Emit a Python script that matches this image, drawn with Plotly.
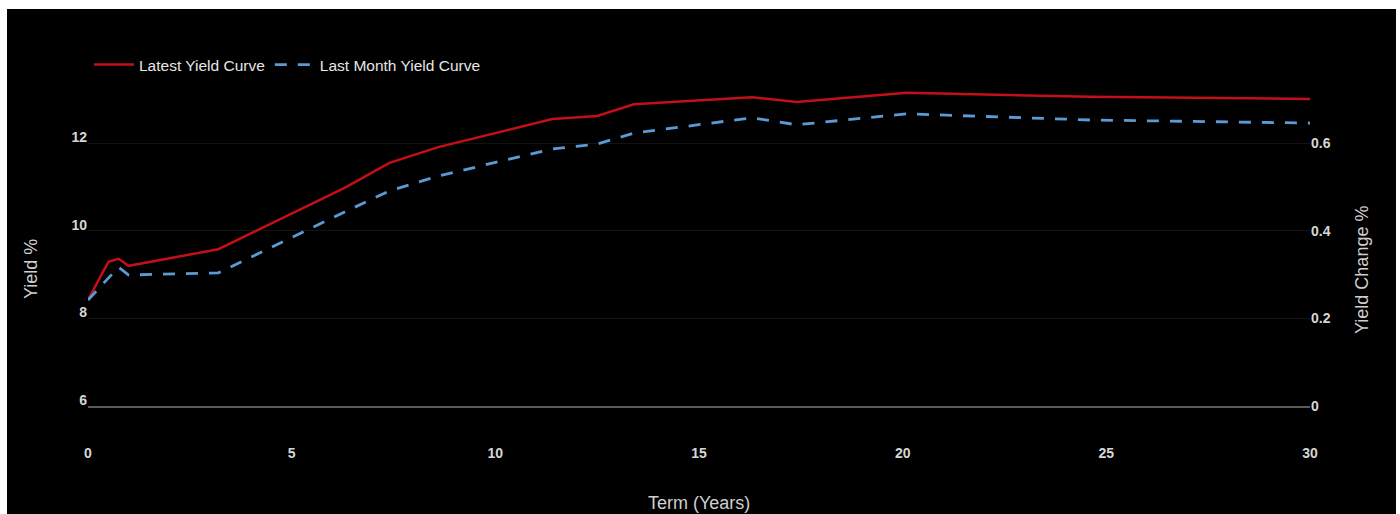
import plotly.graph_objects as go

# Term in years
terms = [0, 0.5, 0.75, 1.0, 3.2, 6.3, 7.4, 8.6, 11.4, 12.5, 13.4, 16.3, 17.4, 20.1, 24.6, 30]

# Yield %
latest_yield = [8.42, 9.29, 9.36, 9.20, 9.58, 10.98, 11.55, 11.91, 12.55, 12.62, 12.89,
                13.05, 12.94, 13.15, 13.06, 13.01]
last_month_yield = [8.42, 8.92, 9.17, 8.99, 9.04, 10.43, 10.91, 11.25, 11.87, 11.98, 12.23,
                    12.58, 12.42, 12.67, 12.53, 12.46]

left_ticks = [6, 8, 10, 12]
right_ticks = [0, 0.2, 0.4, 0.6]
x_ticks = [0, 5, 10, 15, 20, 25, 30]

W, H = 1400, 514
ML, MR, MT, MB = 88, 90, 85, 108
PW, PH = W - ML - MR, H - MT - MB
PX_PER_UNIT = 43.8


def px_x(px):
    return (px - ML) / PW


def px_y(py):
    return (H - MB - py) / PH


FAMILY = "Liberation Sans, Arial, sans-serif"
label_font = dict(family=FAMILY, size=14, color="#d6d6d6", weight="bold")
title_font = dict(family=FAMILY, size=18, color="#cfcfcf")

fig = go.Figure()
fig.add_trace(go.Scatter(
    x=terms, y=latest_yield, mode="lines", name="Latest Yield Curve",
    line=dict(color="#c40f18", width=2.5),
))
fig.add_trace(go.Scatter(
    x=terms, y=last_month_yield, mode="lines", name="Last Month Yield Curve",
    line=dict(color="#5b9bd5", width=2.8, dash="12px,11px"),
))
# secondary axis for yield change
fig.add_trace(go.Scatter(x=[None], y=[None], yaxis="y2", showlegend=False, hoverinfo="skip"))

fig.update_layout(
    width=W, height=H,
    margin=dict(l=ML, r=MR, t=MT, b=MB),
    paper_bgcolor="white",
    plot_bgcolor="black",
    xaxis=dict(
        range=[0, 30], tickvals=x_ticks, showgrid=False, zeroline=False,
        showline=True, linecolor="#5a5a5a", linewidth=1.5,
        ticks="outside", ticklen=33, tickcolor="rgba(0,0,0,0)",
        tickfont=label_font,
    ),
    yaxis=dict(
        range=[6, 6 + PH / PX_PER_UNIT], tickvals=left_ticks,
        showgrid=True, gridcolor="#121212", gridwidth=1, zeroline=False,
        tickfont=label_font, ticklabelshift=-6,
    ),
    yaxis2=dict(
        range=[0, PH / (PX_PER_UNIT * 10)], tickvals=right_ticks, overlaying="y", side="right",
        showgrid=False, zeroline=False, tickfont=label_font,
    ),
    legend=dict(
        orientation="h", x=px_x(89), y=px_y(65), xanchor="left", yanchor="middle",
        font=dict(family=FAMILY, size=15.5, color="#e6e6e6"),
        bgcolor="rgba(0,0,0,0)", itemwidth=40,
    ),
    shapes=[dict(
        type="rect", xref="paper", yref="paper", layer="below",
        x0=px_x(7), x1=px_x(1396), y0=px_y(514), y1=px_y(9),
        fillcolor="black", line=dict(width=0),
    )],
    annotations=[
        dict(text="Yield %", xref="paper", yref="paper", x=px_x(31), y=px_y(269),
             xanchor="center", yanchor="middle",
             textangle=-90, showarrow=False, font=title_font),
        dict(text="Yield Change %", xref="paper", yref="paper", x=px_x(1362), y=px_y(270),
             xanchor="center", yanchor="middle",
             textangle=-90, showarrow=False, font=title_font),
        dict(text="Term (Years)", xref="paper", yref="paper", x=px_x(699), y=px_y(503),
             xanchor="center", yanchor="middle",
             showarrow=False, font=title_font),
    ],
)

fig.write_html("out.html")
